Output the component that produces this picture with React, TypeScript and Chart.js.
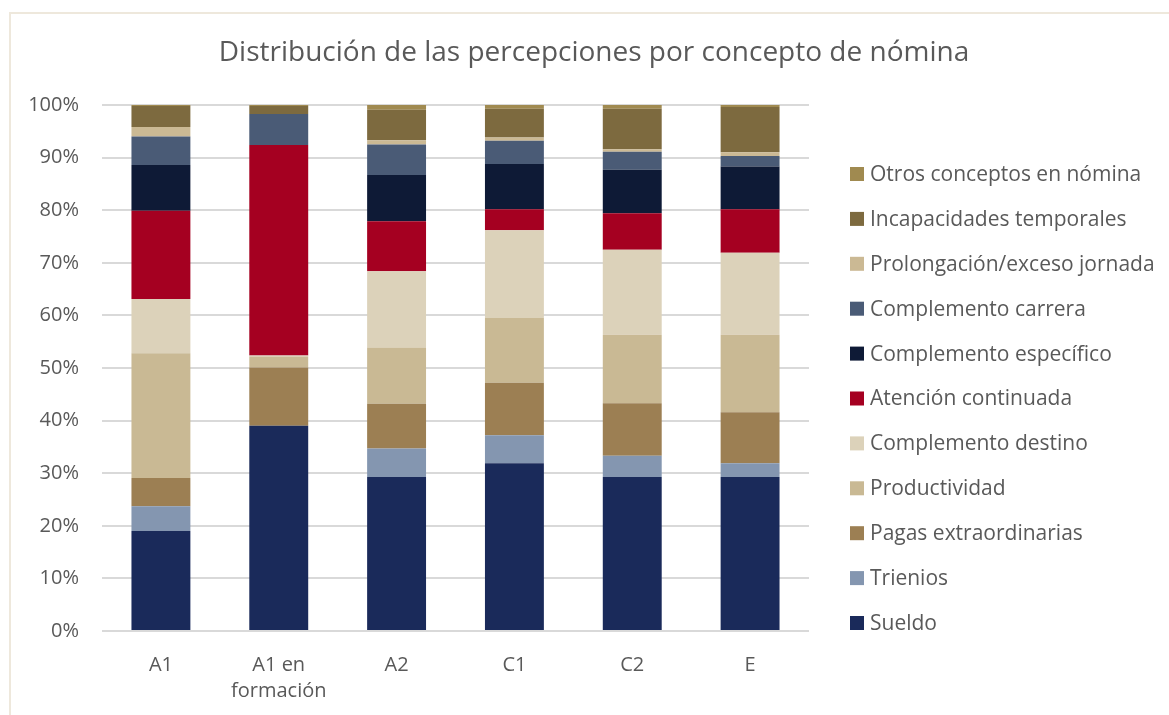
import React, { useEffect, useRef } from "react";
import { Chart, registerables } from "chart.js";

Chart.register(...registerables);

const TITLE = "Distribución de las percepciones por concepto de nómina";
const categories: (string | string[])[] = ["A1", ["A1 en", "formación"], "A2", "C1", "C2", "E"];

const seriesNames = [
  "Sueldo",
  "Trienios",
  "Pagas extraordinarias",
  "Productividad",
  "Complemento destino",
  "Atención continuada",
  "Complemento específico",
  "Complemento carrera",
  "Prolongación/exceso jornada",
  "Incapacidades temporales",
  "Otros conceptos en nómina",
];

const sueldo = [19.0, 39.0, 29.3, 31.9, 29.3, 29.3];
const trienios = [4.7, 0, 5.4, 5.3, 4.0, 2.6];
const pagas = [5.4, 11.1, 8.5, 10.0, 10.0, 9.7];
const productividad = [23.7, 2.1, 10.7, 12.3, 13.0, 14.7];
const destino = [10.3, 0.2, 14.5, 16.7, 16.2, 15.6];
const atencion = [16.8, 40.0, 9.5, 4.0, 6.9, 8.3];
const especifico = [8.7, 0, 8.8, 8.6, 8.3, 8.1];
const carrera = [5.4, 5.9, 5.8, 4.4, 3.4, 2.0];
const prolongacion = [1.8, 0, 0.8, 0.6, 0.5, 0.7];
const incapacidades = [4.0, 1.5, 5.8, 5.5, 7.7, 8.6];
const otros = [0.2, 0.2, 0.9, 0.7, 0.7, 0.4];

const seriesValues = [
  sueldo, trienios, pagas, productividad, destino, atencion,
  especifico, carrera, prolongacion, incapacidades, otros,
];

const colors = [
  "#1a2a5a",
  "#8496b0",
  "#9c7f53",
  "#c9b994",
  "#dcd2ba",
  "#a50021",
  "#0e1a36",
  "#4a5b76",
  "#cbb994",
  "#7d6a3f",
  "#a08a50",
];

const yTicks = [0, 10, 20, 30, 40, 50, 60, 70, 80, 90, 100];

const FONT = "'Open Sans', sans-serif";
const TEXT = "#595959";

const decorPlugin = {
  id: "decor",
  afterDraw(chart: any) {
    const ctx = chart.ctx;
    ctx.save();
    ctx.fillStyle = TEXT;
    ctx.font = `28px ${FONT}`;
    ctx.textAlign = "center";
    ctx.textBaseline = "alphabetic";
    ctx.fillText(TITLE, 594, 61);

    ctx.font = `21px ${FONT}`;
    ctx.textAlign = "left";
    ctx.textBaseline = "middle";
    const n = seriesNames.length;
    for (let i = 0; i < n; i++) {
      const idx = n - 1 - i;
      const cy = 174 + i * 44.9;
      ctx.fillStyle = colors[idx];
      ctx.fillRect(850, cy - 7, 14, 14);
      ctx.fillStyle = TEXT;
      ctx.fillText(seriesNames[idx], 870, cy + 1);
    }
    ctx.restore();
  },
};

export default function App() {
  const ref = useRef<HTMLCanvasElement>(null);
  useEffect(() => {
    if (!ref.current) return;
    const chart = new Chart(ref.current, {
      type: "bar",
      data: {
        labels: categories as any,
        datasets: seriesNames.map((name, i) => ({
          label: name,
          data: seriesValues[i],
          backgroundColor: colors[i],
          borderWidth: 0,
          barPercentage: 0.5,
          categoryPercentage: 1,
        })),
      },
      options: {
        animation: false,
        responsive: false,
        devicePixelRatio: 1,
        layout: { padding: { top: 105, left: 0, right: 360, bottom: 0 } },
        plugins: {
          legend: { display: false },
          title: { display: false },
          tooltip: { enabled: false },
        },
        scales: {
          x: {
            stacked: true,
            grid: { display: false, drawTicks: false },
            border: { display: false },
            ticks: {
              color: TEXT,
              font: { family: FONT, size: 20, lineHeight: 1.3 },
              padding: 21,
              maxRotation: 0,
            },
            afterFit(scale: any) {
              scale.height = 84;
            },
          },
          y: {
            stacked: true,
            min: 0,
            max: 100,
            afterBuildTicks(scale: any) {
              scale.ticks = yTicks.map((v) => ({ value: v }));
            },
            grid: { color: "#d9d9d9", lineWidth: 2, drawTicks: false },
            border: { display: false },
            ticks: {
              color: TEXT,
              font: { family: FONT, size: 20 },
              padding: 23,
              callback: (v: any) => `${v}%`,
            },
            afterFit(scale: any) {
              scale.width = 102;
            },
          },
        },
      },
      plugins: [decorPlugin],
    });
    return () => chart.destroy();
  }, []);

  return (
    <div style={{ position: "absolute", left: 0, top: 0, width: 1169, height: 715, overflow: "hidden", background: "#fff" }}>
      <div
        style={{
          position: "absolute",
          left: 9,
          top: 12,
          width: 1300,
          height: 900,
          borderLeft: "2px solid #eee8dc",
          borderTop: "2px solid #eee8dc",
        }}
      />
      <canvas ref={ref} width={1169} height={715} style={{ position: "absolute", left: 0, top: 0, width: 1169, height: 715 }} />
    </div>
  );
}
